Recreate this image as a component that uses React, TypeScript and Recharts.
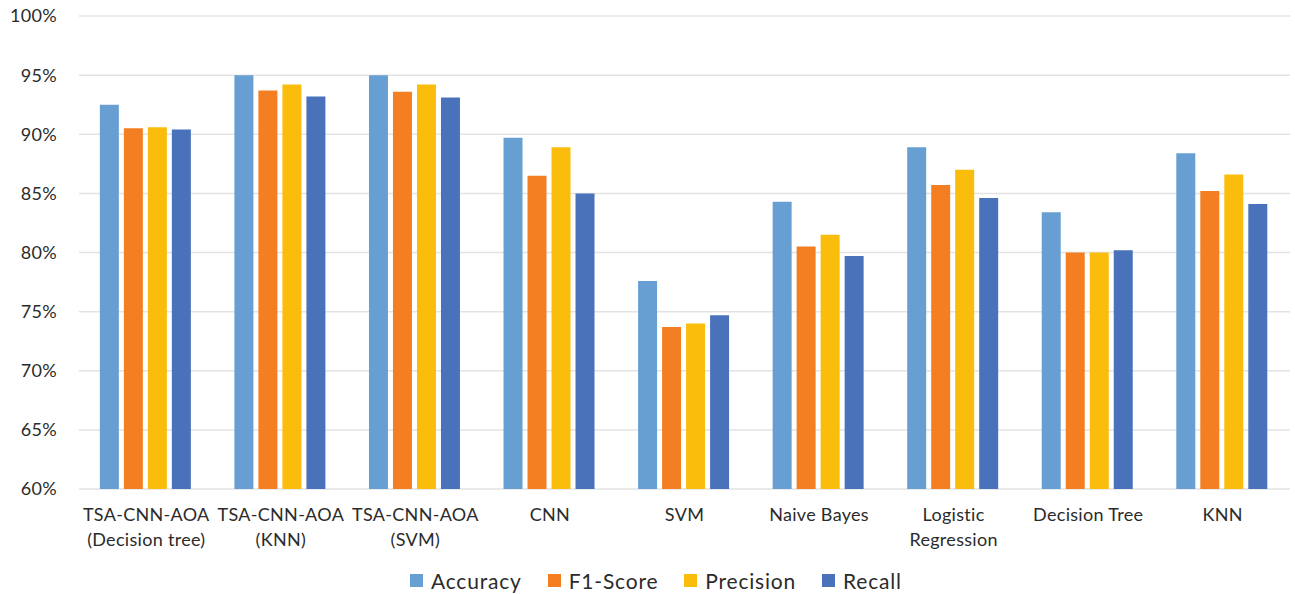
import React from "react";
import { BarChart, Bar, XAxis, YAxis, CartesianGrid } from "recharts";

const categories = [
  "TSA-CNN-AOA\n(Decision tree)",
  "TSA-CNN-AOA\n(KNN)",
  "TSA-CNN-AOA\n(SVM)",
  "CNN",
  "SVM",
  "Naive Bayes",
  "Logistic\nRegression",
  "Decision Tree",
  "KNN",
];

const accuracy = [92.5, 95.0, 95.0, 89.7, 77.6, 84.3, 88.9, 83.4, 88.4];
const f1Score = [90.5, 93.7, 93.6, 86.5, 73.7, 80.5, 85.7, 80.0, 85.2];
const precision = [90.6, 94.2, 94.2, 88.9, 74.0, 81.5, 87.0, 80.0, 86.6];
const recall = [90.4, 93.2, 93.1, 85.0, 74.7, 79.7, 84.6, 80.2, 84.1];

const yTicks = [60, 65, 70, 75, 80, 85, 90, 95, 100];

const series = [
  { key: "accuracy", name: "Accuracy", color: "#689fd3" },
  { key: "f1", name: "F1-Score", color: "#f47f22" },
  { key: "precision", name: "Precision", color: "#fbbd0b" },
  { key: "recall", name: "Recall", color: "#4a72bb" },
];

const FONT = "Lato, 'Open Sans', sans-serif";
const TEXT = "#2b2b2b";

const data = categories.map((c, i) => ({
  name: c,
  accuracy: accuracy[i],
  f1: f1Score[i],
  precision: precision[i],
  recall: recall[i],
}));

const XTick = (props: any) => {
  const { x, y, payload } = props;
  const lines = String(payload.value).split("\n");
  return (
    <g transform={`translate(${x},${y})`}>
      <text
        textAnchor="middle"
        fill={TEXT}
        fontSize={18}
        fontFamily={FONT}
        letterSpacing={0.3}
      >
        {lines.map((l, i) => (
          <tspan key={i} x={0} y={32 + i * 25}>
            {l}
          </tspan>
        ))}
      </text>
    </g>
  );
};

export default function App() {
  return (
    <div
      style={{
        position: "absolute",
        left: 0,
        top: 0,
        width: 1295,
        height: 594,
        background: "#ffffff",
        fontFamily: FONT,
      }}
    >
      <BarChart
        width={1295}
        height={594}
        data={data}
        margin={{ top: 16, right: 5, left: 0, bottom: 0 }}
        barCategoryGap="15.5%"
        barGap={5}
      >
        <CartesianGrid vertical={false} stroke="#e3e3e3" strokeWidth={1.5} />
        <XAxis
          dataKey="name"
          axisLine={false}
          tickLine={false}
          tickSize={0}
          tickMargin={0}
          height={105}
          interval={0}
          tick={<XTick />}
        />
        <YAxis
          width={79}
          domain={[60, 100]}
          ticks={yTicks}
          allowDataOverflow
          axisLine={false}
          tickLine={false}
          tickSize={0}
          tickMargin={22}
          tickFormatter={(v) => `${v}%`}
          tick={{ fill: TEXT, fontSize: 18, fontFamily: FONT, letterSpacing: 0.3 }}
        />
        {series.map((s) => (
          <Bar
            key={s.key}
            dataKey={s.key}
            name={s.name}
            fill={s.color}
            isAnimationActive={false}
          />
        ))}
      </BarChart>
      <div
        style={{
          position: "absolute",
          left: 410,
          top: 566,
          height: 28,
          display: "flex",
          alignItems: "center",
          gap: 26,
          fontSize: 21,
          letterSpacing: 0.8,
          color: TEXT,
        }}
      >
        {series.map((s) => (
          <div key={s.key} style={{ display: "flex", alignItems: "center", gap: 8 }}>
            <span
              style={{ width: 13, height: 13, background: s.color, display: "inline-block" }}
            />
            <span>{s.name}</span>
          </div>
        ))}
      </div>
    </div>
  );
}
